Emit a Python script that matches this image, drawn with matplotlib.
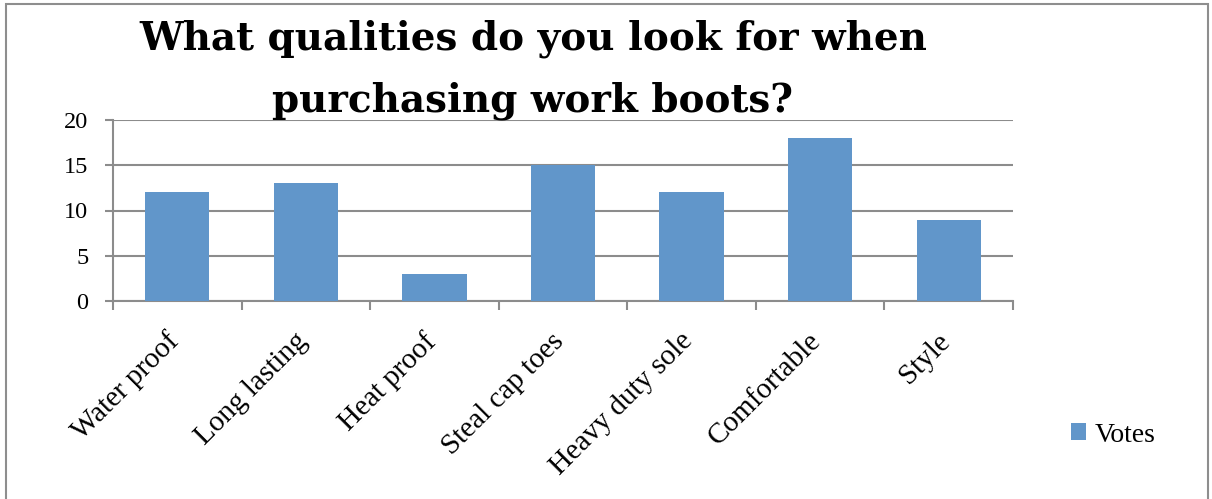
import matplotlib
matplotlib.use('Agg')
import matplotlib.pyplot as plt
import matplotlib.transforms as mtransforms
from matplotlib.patches import Rectangle
import numpy as np

# Chart data
categories = ['Water proof', 'Long lasting', 'Heat proof', 'Steal cap toes',
              'Heavy duty sole', 'Comfortable', 'Style']
votes = [12, 13, 3, 15, 12, 18, 9]
y_ticks = [0, 5, 10, 15, 20]
title_lines = ['What qualities do you look for when', 'purchasing work boots?']

bar_color = '#6196CA'
grid_color = '#8C8C8C'
tick_font = 'Liberation Serif'

W, H = 1212, 499
fig = plt.figure(figsize=(W / 100, H / 100), dpi=100)

# outer chart border (bottom edge runs off the image)
fig.patches.append(Rectangle((6 / W, -0.05), 1202 / W, 1.05 - 4 / H,
                             transform=fig.transFigure, fill=False,
                             edgecolor='#8E8E8E', linewidth=1.5))

ax = fig.add_axes([113 / W, 198 / H, 900 / W, 181 / H])
x = np.arange(len(categories))
ax.bar(x, votes, width=0.5, color=bar_color, label='Votes', zorder=3)

ax.set_xlim(-0.5, len(categories) - 0.5)
ax.set_ylim(0, 20)
ax.set_yticks(y_ticks)
ax.set_yticklabels([str(v) for v in y_ticks], fontfamily=tick_font, fontsize=17.5)
ax.yaxis.grid(True, color=grid_color, linewidth=1.5, zorder=0)

# category boundary ticks on x, labels sit between them
ax.set_xticks(np.arange(len(categories) + 1) - 0.5)
ax.set_xticklabels([])
ax.tick_params(axis='x', length=6.5, width=1.5, color=grid_color)
ax.tick_params(axis='y', length=5.8, width=1.5, color=grid_color, pad=12)

# rotated category labels, nudged a little left/down like Excel does
offset = mtransforms.ScaledTranslation(-12 / 100, -27 / 100, fig.dpi_scale_trans)
for xi, name in zip(x, categories):
    ax.text(xi, 0, name, transform=ax.get_xaxis_transform() + offset,
            rotation=45, ha='right', va='top', rotation_mode='anchor',
            fontfamily=tick_font, fontsize=21)

for s in ['top', 'right']:
    ax.spines[s].set_visible(False)
for s in ['left', 'bottom']:
    ax.spines[s].set_color(grid_color)
    ax.spines[s].set_linewidth(1.5)

# two-line title, one baseline per line
for line, base in zip(title_lines, [49, 112]):
    fig.text(533 / W, 1 - base / H, line, ha='center', va='baseline',
             fontfamily='DejaVu Serif', fontweight='bold', fontsize=28)

fig.legend(loc='center left', bbox_to_anchor=(1071 / W, 1 - 435 / H), frameon=False,
           prop={'family': tick_font, 'size': 20}, handlelength=0.55, handleheight=0.55,
           handletextpad=0.3, borderaxespad=0, borderpad=0)

fig.savefig('out.png', dpi=100)
